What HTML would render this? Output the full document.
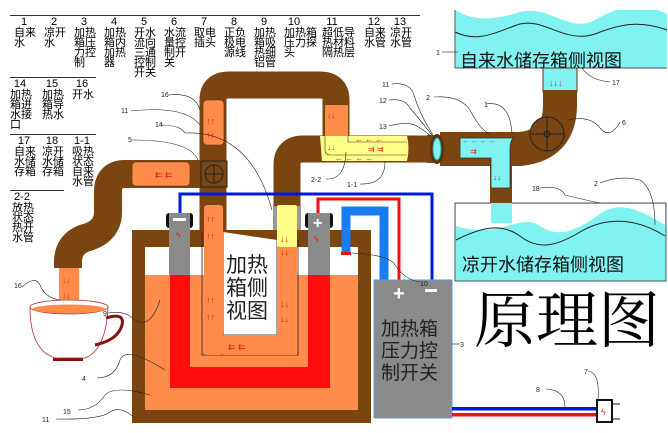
<!DOCTYPE html>
<html><head><meta charset="utf-8"><style>
body{margin:0;background:#fff;width:668px;height:433px;overflow:hidden;font-family:"Liberation Sans","Noto Sans CJK SC",sans-serif}
svg{position:absolute;left:0;top:0}
.lg{position:absolute;font-size:11px;line-height:10px;width:24px;color:#000;font-family:"Liberation Sans","Noto Sans CJK SC",sans-serif;word-break:break-all}
.lg b{display:block;font-weight:normal;text-align:center;width:20px;margin-bottom:1px}
</style></head><body>
<svg width="668" height="433" viewBox="0 0 668 433" font-family="Liberation Sans, Noto Sans CJK SC, sans-serif">
<g stroke="#333" stroke-width="1">
<line x1="10" y1="15.5" x2="420" y2="15.5"/>
<line x1="10" y1="77.5" x2="96" y2="77.5"/>
<line x1="10" y1="134.5" x2="96" y2="134.5"/>
<line x1="10" y1="190.5" x2="64" y2="190.5"/>
</g>
<rect x="455" y="10" width="212" height="58" fill="#80f2f2"/>
<path d="M455,10 H667 V14 C640,0 615,8 595,20 C570,34 548,4 520,12 C495,20 475,22 455,10Z" fill="#fff"/>
<path d="M455,32 C480,44 500,30 520,24 C545,18 565,44 595,34 C620,24 640,20 667,30" fill="none" stroke="#222" stroke-width="1"/>
<line x1="455" y1="10" x2="455" y2="68" stroke="#555"/>
<line x1="455" y1="68" x2="667" y2="68" stroke="#555"/>
<text x="460" y="67" font-size="18" fill="#111">自来水储存箱侧视图</text>
<rect x="455" y="203" width="211" height="78" fill="#80f2f2" stroke="#555"/>
<path d="M456,204 H665 V225 C640,210 620,200 600,214 C580,228 560,240 540,226 C520,212 500,240 456,226Z" fill="#fff"/>
<path d="M456,240 C480,228 500,222 520,236 C540,252 560,244 580,232 C600,220 630,214 665,236" fill="none" stroke="#222"/>
<rect x="491" y="203" width="21" height="20" fill="#80f2f2"/>
<text x="462" y="271" font-size="18" fill="#111">凉开水储存箱侧视图</text>
<rect x="543" y="68" width="34" height="24" fill="#80f2f2" stroke="#5a3208"/>
<text x="549" y="86" font-size="9" fill="#e03020">↓↓↓</text>
<path d="M560,90 V105 Q560,145 520,149 H440" fill="none" stroke="#7b4512" stroke-width="34"/>
<path d="M501,150 V203" stroke="#7b4512" stroke-width="22"/>
<path d="M460,138 H515 Q510,138 510,150 V188 H491 V158 H460Z" fill="#80f2f2" stroke="#333" stroke-width="0.8"/>
<text x="462" y="143" font-size="7" fill="#e03020">← ← ← ←</text>
<text x="470" y="154" font-size="8" fill="#e03020">⇉</text>
<text x="493" y="180" font-size="8" fill="#e03020">↓↓</text>
<circle cx="547" cy="134" r="17" fill="#7b4512" stroke="#222"/>
<line x1="530" y1="134" x2="564" y2="134" stroke="#222"/><line x1="547" y1="117" x2="547" y2="151" stroke="#222"/>
<circle cx="547" cy="134" r="3" fill="none" stroke="#222"/>
<rect x="427" y="135" width="10" height="28" fill="#7b4512"/>
<ellipse cx="437" cy="149" rx="7" ry="15" fill="#5a3208"/>
<ellipse cx="437" cy="149" rx="4" ry="11" fill="#80f2f2" stroke="#2aa"/>
<path d="M200,174 H125 Q108,174 108,192 V212 Q108,232 85,238 Q68,244 68,262 V268" fill="none" stroke="#7b4512" stroke-width="28"/>
<path d="M213,230 V100 Q213,85 229,85 H320 Q336,85 336,100 V149 H427" fill="none" stroke="#7b4512" stroke-width="27"/>
<path d="M287,232 V165 Q287,149 303,149 H336" fill="none" stroke="#7b4512" stroke-width="27"/>
<rect x="132" y="230" width="239" height="193" fill="#7b4512"/>
<rect x="145" y="247" width="213" height="163" fill="#ff8c4a"/>
<rect x="145" y="247" width="213" height="28" fill="#fff"/>
<path d="M170,275 H330 V388 H170Z" fill="#ff0c0c"/>
<rect x="190" y="275" width="118" height="92" fill="#ff8c4a"/>
<path d="M202,232 V355 H298 V240" fill="none" stroke="#222" stroke-width="0.8"/>
<path d="M223,232 V335 H277 V240" fill="#fff" stroke="#222" stroke-width="0.8"/>
<rect x="204" y="205" width="19" height="150" fill="#ff8c4a" rx="3"/>
<rect x="223" y="335" width="54" height="20" fill="#ff8c4a"/>
<rect x="277" y="245" width="20" height="110" fill="#ff8c4a"/>
<rect x="277" y="205" width="20" height="42" fill="#ffff88" rx="2"/>
<text x="226" y="272" font-size="21" fill="#222">加热</text>
<text x="226" y="295" font-size="21" fill="#222">箱侧</text>
<text x="226" y="318" font-size="21" fill="#222">视图</text>
<g font-size="9" fill="#e02010">
<text x="206" y="222">↑↑</text><text x="206" y="239">↑↑</text><text x="206" y="303">↑↑</text><text x="206" y="320">↑↑</text>
<text x="280" y="242">↓↓</text><text x="280" y="255">↓↓</text><text x="280" y="307">↓↓</text><text x="280" y="322">↓↓</text>
<text x="228" y="350">⇇ ⇇</text>
</g>
<rect x="203" y="100" width="21" height="45" rx="4" fill="#ff8c4a" stroke="#5a3208" stroke-width="0.6"/>
<text x="206" y="124" font-size="9" fill="#e02010">↑↑</text><text x="206" y="138" font-size="9" fill="#e02010">↑↑</text>
<rect x="132" y="162" width="58" height="24" rx="4" fill="#ff8c4a" stroke="#5a3208" stroke-width="0.6"/>
<text x="155" y="178" font-size="9" fill="#e02010">⇇ ⇇</text>
<rect x="201" y="161" width="26" height="26" fill="#7b4512" stroke="#222"/>
<circle cx="214" cy="174" r="9" fill="none" stroke="#222"/><line x1="205" y1="174" x2="223" y2="174" stroke="#222"/><line x1="214" y1="165" x2="214" y2="183" stroke="#222"/>
<rect x="325" y="105" width="23" height="32" fill="#ff8c4a"/>
<path d="M320,136 H407 Q410,148 407,161 H322Z" fill="#ffff88"/>
<path d="M325,136 V150 Q325,155 330,155 H407 M348,136 V142 H407" fill="none" stroke="#333" stroke-width="0.6"/>
<g font-size="8" fill="#e02010"><text x="327" y="118">↓↓</text><text x="327" y="150">↓↓</text><text x="355" y="142">← ← ←</text><text x="368" y="152">⇉ ⇉</text><text x="335" y="161">← ← ← ←</text></g>
<rect x="166" y="213" width="27" height="15" rx="3" fill="#111"/>
<rect x="169" y="213" width="21" height="62" fill="#8a8a8a"/>
<rect x="173" y="218" width="13" height="3" fill="#fff"/>
<rect x="305" y="213" width="28" height="15" rx="3" fill="#111"/>
<rect x="308" y="213" width="22" height="62" fill="#8a8a8a"/>
<text x="313" y="228" font-size="16" font-weight="bold" fill="#fff">+</text>
<text x="176" y="238" font-size="9" fill="#e02020">ϟ</text><text x="314" y="242" font-size="9" fill="#e02020">ϟ</text>
<rect x="273" y="206" width="4" height="24" fill="#999"/><rect x="297" y="206" width="4" height="24" fill="#999"/>
<path d="M180,213 V194 H432 V281" fill="none" stroke="#0018e0" stroke-width="3"/>
<path d="M318,213 V199 H399 V281" fill="none" stroke="#f01010" stroke-width="3"/>
<path d="M346,253 V211 H384 V281" fill="none" stroke="#1a7cf0" stroke-width="9"/>
<rect x="341" y="252" width="10" height="3" fill="#f01010"/>
<rect x="374" y="280" width="78" height="138" fill="#8a8a8a" stroke="#5aa0d8"/>
<text x="393" y="300" font-size="20" font-weight="bold" fill="#fff">+</text>
<rect x="425" y="289" width="12" height="3" fill="#fff"/>
<text x="381" y="335" font-size="19" fill="#222">加热箱</text>
<text x="381" y="357" font-size="19" fill="#222">压力控</text>
<text x="381" y="379" font-size="19" fill="#222">制开关</text>
<text x="474" y="342" font-size="62" fill="#000" font-family="Noto Serif CJK SC, serif">原理图</text>
<rect x="452" y="407" width="145" height="3.5" fill="#0018e0"/>
<rect x="452" y="413" width="145" height="3.5" fill="#f01010"/>
<rect x="597" y="400" width="15" height="22" fill="#fff" stroke="#111" stroke-width="2"/>
<line x1="612" y1="404" x2="620" y2="404" stroke="#111"/><line x1="612" y1="419" x2="620" y2="419" stroke="#111"/>
<text x="601" y="415" font-size="9" fill="#e02020">ϟ</text>
<rect x="59" y="268" width="20" height="45" fill="#ff8c4a"/>
<text x="62" y="283" font-size="8" fill="#e02010">↓↓</text><text x="62" y="298" font-size="8" fill="#e02010">↓↓</text>
<path d="M30,307 Q30,350 55,358 H85 Q106,350 108,307" fill="#fff" stroke="#a33" stroke-width="0.8"/>
<ellipse cx="69" cy="307" rx="39" ry="7" fill="#fff" stroke="#a33" stroke-width="0.8"/>
<ellipse cx="69" cy="309" rx="36" ry="4.5" fill="#ff8c4a"/>
<path d="M106,318 Q125,312 122,325 Q118,340 95,345" fill="none" stroke="#8b1010" stroke-width="3"/>
<rect x="53" y="358" width="30" height="3" fill="#8b1010"/>
<g font-size="7" fill="#222"><g fill="none" stroke="#222" stroke-width="0.6">
<path d="M22,287 Q35,275 40,285 Q45,298 60,300"/><path d="M108,313 Q125,310 135,320 Q150,330 160,300"/>
<path d="M97,378 Q115,378 120,360 Q125,345 165,370"/><path d="M78,410 Q95,410 105,395 Q115,385 150,395"/>
<path d="M56,419 Q100,420 110,412 Q120,405 135,418"/>
<path d="M169,95 Q195,92 200,110"/><path d="M131,111 Q185,105 200,125"/><path d="M162,125 Q180,125 185,133 Q250,130 272,210"/><path d="M132,140 Q190,140 198,160"/>
<path d="M392,84 Q410,82 414,95 Q420,115 433,135"/><path d="M389,100 Q405,98 410,108 Q420,120 432,135"/><path d="M389,126 Q410,120 420,128 Q428,133 431,137"/>
<path d="M326,179 Q345,180 346,152"/><path d="M360,184 Q385,185 385,162"/>
<path d="M434,97 Q460,95 470,110 Q480,130 490,134"/><path d="M486,104 Q510,100 512,134"/><path d="M568,120 Q590,115 600,128 Q610,140 620,122"/>
<path d="M442,52 H458"/><path d="M610,82 Q590,80 582,68"/>
<path d="M540,188 Q560,185 565,195 Q585,200 600,203"/><path d="M600,183 Q620,175 640,180 Q655,190 655,225"/>
<path d="M352,253 Q390,255 395,265 Q405,280 420,282"/><path d="M452,344 H460"/>
<path d="M546,389 Q565,390 565,407"/><path d="M588,371 Q600,372 598,400"/>
</g>
<text x="14" y="288">16</text><text x="103" y="316">9</text><text x="82" y="381">4</text><text x="63" y="414">15</text><text x="42" y="422">11</text>
<text x="161" y="97">16</text><text x="121" y="113">11</text><text x="155" y="127">14</text><text x="128" y="142">5</text>
<text x="382" y="87">11</text><text x="379" y="103">12</text><text x="379" y="129">13</text>
<text x="311" y="182">2-2</text><text x="347" y="187">1-1</text>
<text x="426" y="100">2</text><text x="484" y="107">1</text><text x="622" y="125">6</text>
<text x="436" y="55">1</text><text x="612" y="85">17</text>
<text x="532" y="191">18</text><text x="594" y="186">2</text>
<text x="420" y="286">10</text><text x="460" y="347">3</text>
<text x="536" y="392">8</text><text x="584" y="374">7</text>
</g>
</svg>
<div class="lg" style="left:14px;top:17px"><b>1</b>自来水</div>
<div class="lg" style="left:44px;top:17px"><b>2</b>凉开水</div>
<div class="lg" style="left:74px;top:17px"><b>3</b>加热箱压力控制</div>
<div class="lg" style="left:104px;top:17px"><b>4</b>加热箱内加热器</div>
<div class="lg" style="left:134px;top:17px"><b>5</b>开水流向三通控制开关</div>
<div class="lg" style="left:164px;top:17px"><b>6</b>水流量控制开关</div>
<div class="lg" style="left:194px;top:17px"><b>7</b>取电插头</div>
<div class="lg" style="left:224px;top:17px"><b>8</b>正负极电源线</div>
<div class="lg" style="left:254px;top:17px"><b>9</b>加热箱吸热细铝管</div>
<div class="lg" style="left:284px;top:17px;width:35px"><b>10</b>加热箱压力探头</div>
<div class="lg" style="left:322px;top:17px;width:35px"><b>11</b>超低导热材料隔热层</div>
<div class="lg" style="left:364px;top:17px"><b>12</b>自来水管</div>
<div class="lg" style="left:390px;top:17px"><b>13</b>凉开水管</div>
<div class="lg" style="left:10px;top:79px"><b>14</b>加热箱进水接口</div>
<div class="lg" style="left:42px;top:79px"><b>15</b>加热箱导热水</div>
<div class="lg" style="left:72px;top:79px"><b>16</b>开水</div>
<div class="lg" style="left:14px;top:136px"><b>17</b>自来水储存箱</div>
<div class="lg" style="left:42px;top:136px"><b>18</b>凉开水储存箱</div>
<div class="lg" style="left:72px;top:136px"><b>1-1</b>吸热状态自来水管</div>
<div class="lg" style="left:12px;top:192px"><b>2-2</b>放热状态热开水管</div>
</body></html>
